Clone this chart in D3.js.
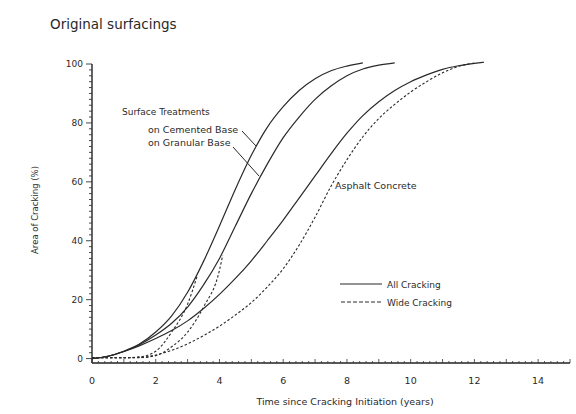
<!DOCTYPE html>
<html>
<head>
<meta charset="utf-8">
<script src="https://cdn.jsdelivr.net/npm/d3@7"></script>
<style>
  body { margin: 0; background: #fff; }
  svg text { font-family: "DejaVu Sans", "Liberation Sans", sans-serif; fill: #2a2a2a; }
</style>
</head>
<body>
<div id="chart"></div>
<script>
// Values: [years since cracking initiation, area of cracking %]
const cementedAll = [[0,0],[0.5,0.8],[1,2.5],[1.5,5],[2,9],[2.5,14.5],[3,22.5],[3.5,33],[4,45],[4.5,57.5],[5,69],[5.5,78.5],[6,85.5],[6.5,91],[7,95],[7.5,97.7],[8,99.3],[8.5,100.4]];
const granularAll = [[0,0],[0.5,0.8],[1,2.4],[1.5,4.8],[2,8],[2.5,12],[3,17.5],[3.5,25],[4,34],[4.5,45],[5,56],[5.5,66],[6,75],[6.5,82],[7,88],[7.5,92.5],[8,96],[8.5,98.3],[9,99.6],[9.5,100.4]];
const asphaltAll = [[0,0],[0.5,0.8],[1,2.4],[1.5,4.4],[2,6.8],[2.5,9.5],[3,12.8],[3.5,17],[4,21.8],[4.5,27.2],[5,33.2],[5.5,40],[6,47],[6.5,54.5],[7,62],[7.5,69.5],[8,76.5],[8.5,82.5],[9,87.2],[9.5,91],[10,94],[10.5,96.3],[11,98.2],[11.5,99.4],[12,100.2],[12.3,100.6]];
const cementedWide = [[0,0.3],[1,0.3],[1.5,0.6],[2,2.5],[2.5,9],[3,18.5],[3.3,28]];
const granularWide = [[0,0.3],[1.5,0.3],[2,1],[2.5,4],[3,9],[3.5,17.5],[4,30],[4.1,35]];
const asphaltWide = [[0,0.3],[1,0.3],[1.5,0.4],[2,1.2],[2.5,2.8],[3,5],[3.5,7.8],[4,11],[4.5,14.8],[5,19],[5.5,24.3],[6,30.5],[6.5,38.5],[7,48],[7.5,58.5],[8,67.5],[8.5,75.3],[9,81.5],[9.5,86.3],[10,90.5],[10.5,94],[11,97],[11.5,99.2],[12,100.3]];

const xTicks = [0, 2, 4, 6, 8, 10, 12, 14];
const yTicks = [0, 20, 40, 60, 80, 100];

const width = 576, height = 414;
const svg = d3.select('#chart').append('svg')
    .attr('width', width)
    .attr('height', height);

const x = d3.scaleLinear().domain([0, 15]).range([92, 570]);
const y = d3.scaleLinear().domain([-1.5, 100]).range([363, 64]);

// title
svg.append('text')
    .attr('x', 50).attr('y', 29)
    .style('font-size', '13.5px')
    .text('Original surfacings');

// x axis: minor ticks every 0.2, medium every 1
const xAxis = svg.append('g').attr('transform', `translate(0,${y(-1.5)})`);
xAxis.append('line')
    .attr('x1', x(0)).attr('x2', x(15))
    .attr('stroke', '#222').attr('stroke-width', 1.6);
xAxis.selectAll('.minor')
    .data(d3.range(0, 75.5).map(i => i / 5))
  .join('line')
    .attr('x1', d => x(d)).attr('x2', d => x(d))
    .attr('y1', 0)
    .attr('y2', d => Math.abs(d - Math.round(d)) < 1e-6 ? -4 : -2)
    .attr('stroke', '#333').attr('stroke-width', 0.8);
xAxis.selectAll('.xlabel')
    .data(xTicks)
  .join('text')
    .attr('x', d => x(d)).attr('y', 21)
    .attr('text-anchor', 'middle')
    .style('font-size', '9.5px')
    .text(d => d);

svg.append('text')
    .attr('x', 345).attr('y', 405)
    .attr('text-anchor', 'middle')
    .style('font-size', '9.5px')
    .text('Time since Cracking Initiation (years)');

// y axis
const yAxis = svg.append('g').attr('transform', `translate(${x(0)},0)`);
yAxis.append('line')
    .attr('y1', y(-1.5)).attr('y2', y(100))
    .attr('stroke', '#222').attr('stroke-width', 1.4);
yAxis.selectAll('.minor')
    .data(d3.range(0, 101, 2))
  .join('line')
    .attr('y1', d => y(d)).attr('y2', d => y(d))
    .attr('x1', 0)
    .attr('x2', d => d % 20 === 0 ? -6 : -3)
    .attr('stroke', '#333').attr('stroke-width', 0.9);
yAxis.selectAll('.ylabel')
    .data(yTicks)
  .join('text')
    .attr('x', -9).attr('y', d => y(d))
    .attr('dy', '0.35em')
    .attr('text-anchor', 'end')
    .style('font-size', '9px')
    .text(d => d);

svg.append('text')
    .attr('transform', 'translate(38,210) rotate(-90)')
    .attr('text-anchor', 'middle')
    .style('font-size', '8.5px')
    .text('Area of Cracking (%)');

// curves
const line = d3.line()
    .x(d => x(d[0]))
    .y(d => y(d[1]))
    .curve(d3.curveMonotoneX);

const series = [
  {data: cementedAll, dash: null},
  {data: granularAll, dash: null},
  {data: asphaltAll, dash: null},
  {data: cementedWide, dash: '2.5,2'},
  {data: granularWide, dash: '2.5,2'},
  {data: asphaltWide, dash: '2.5,2'}
];

svg.append('g').selectAll('path')
    .data(series)
  .join('path')
    .attr('d', d => line(d.data))
    .attr('fill', 'none')
    .attr('stroke', '#2a2a2a')
    .attr('stroke-width', d => d.dash ? 1.1 : 1.2)
    .attr('stroke-dasharray', d => d.dash);

// annotations
const ann = svg.append('g').style('font-size', '9px');
ann.append('text').attr('x', 122).attr('y', 115).text('Surface Treatments');
ann.append('text').attr('x', 148).attr('y', 133).style('font-size', '9.5px').text('on Cemented Base');
ann.append('text').attr('x', 148).attr('y', 146).style('font-size', '9.5px').text('on Granular Base');
ann.append('text').attr('x', 335).attr('y', 189).style('font-size', '9.5px').text('Asphalt Concrete');

svg.append('line')
    .attr('x1', 242).attr('y1', 131).attr('x2', 256).attr('y2', 146)
    .attr('stroke', '#2a2a2a').attr('stroke-width', 1);
svg.append('line')
    .attr('x1', 233).attr('y1', 147).attr('x2', 259).attr('y2', 176)
    .attr('stroke', '#2a2a2a').attr('stroke-width', 1);

// legend
const legend = svg.append('g').attr('transform', 'translate(340,284)');
legend.append('line')
    .attr('x1', 0).attr('x2', 42).attr('y1', 0).attr('y2', 0)
    .attr('stroke', '#2a2a2a').attr('stroke-width', 1.2);
legend.append('line')
    .attr('x1', 1).attr('x2', 42).attr('y1', 18).attr('y2', 18)
    .attr('stroke', '#2a2a2a').attr('stroke-width', 1.1)
    .attr('stroke-dasharray', '4,2');
legend.append('text').attr('x', 47).attr('y', 3.5).style('font-size', '9px').text('All Cracking');
legend.append('text').attr('x', 47).attr('y', 21.5).style('font-size', '9px').text('Wide Cracking');
</script>
</body>
</html>
